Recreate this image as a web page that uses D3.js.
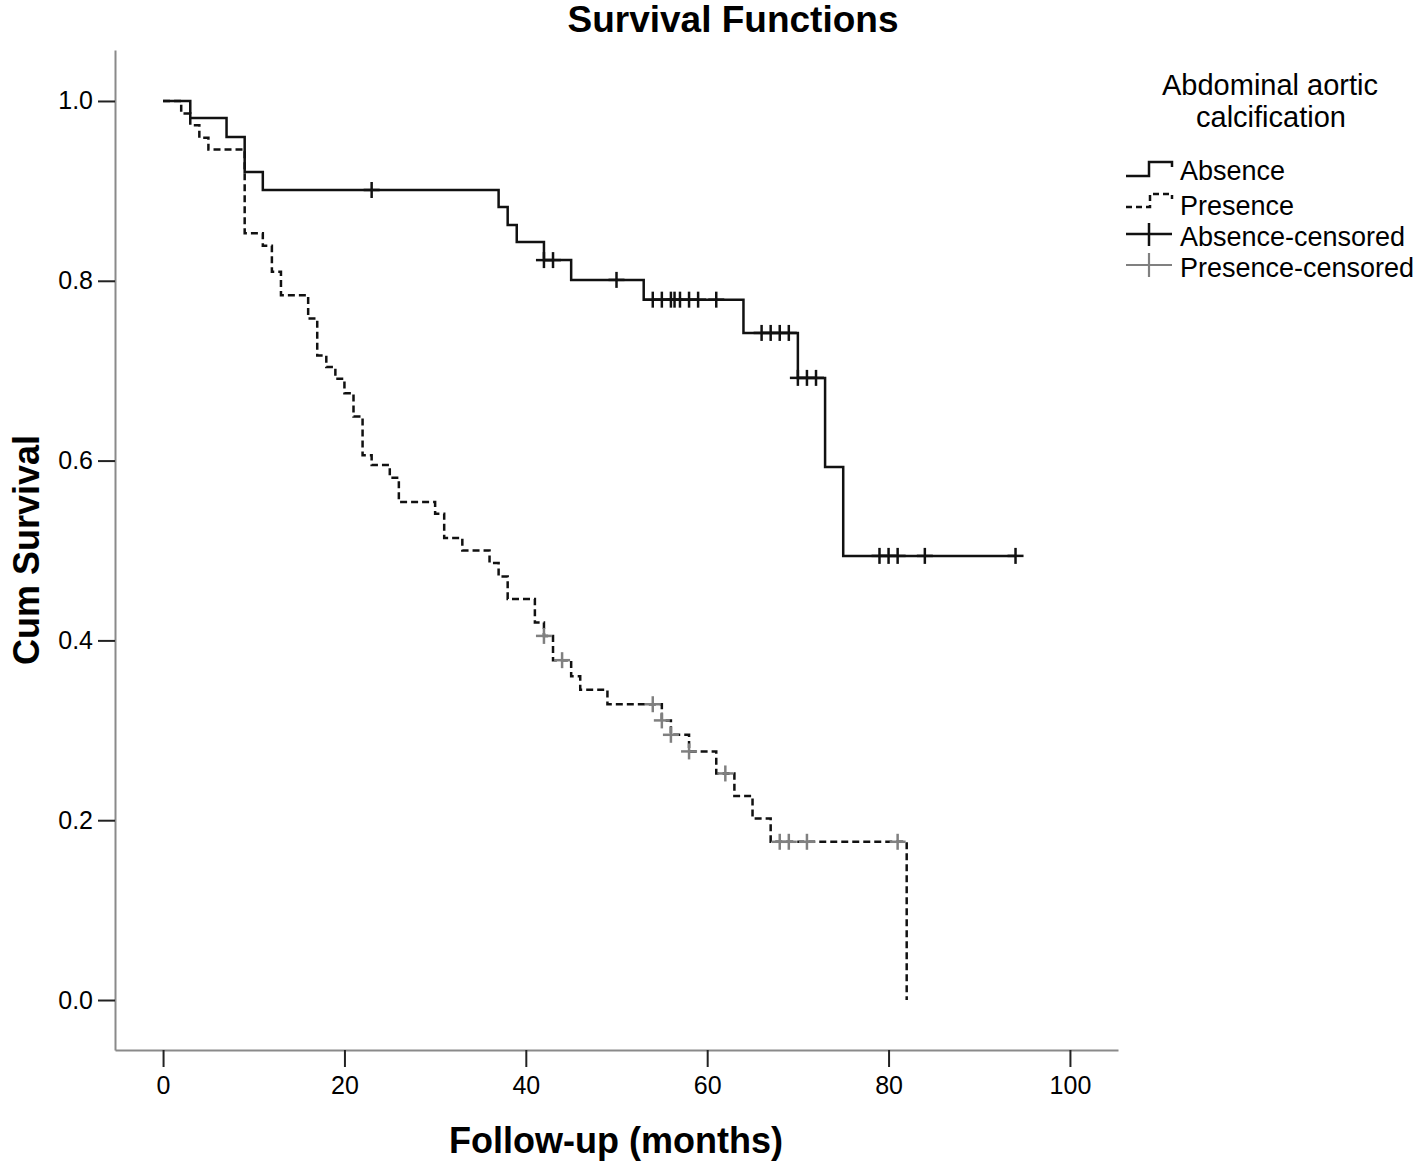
<!DOCTYPE html>
<html>
<head>
<meta charset="utf-8">
<script src="https://cdn.jsdelivr.net/npm/d3@7"></script>
<style>
  html, body { margin: 0; padding: 0; background: #fff; }
  svg { display: block; font-family: "Liberation Sans", Arial, sans-serif; }
</style>
</head>
<body>
<svg id="chart" width="1418" height="1165"></svg>
<script>
// ---- Data ----
const title = "Survival Functions";
const xLabel = "Follow-up (months)";
const yLabel = "Cum Survival";
const legendTitle = ["Abdominal aortic", "calcification"];
const legendLabels = ["Absence", "Presence", "Absence-censored", "Presence-censored"];

const xTicks = [0, 20, 40, 60, 80, 100];
const yTicks = [0.0, 0.2, 0.4, 0.6, 0.8, 1.0];

// Absence group: event times and survival after event
const absenceTimes = [0, 3, 7, 9, 11, 37, 38, 39, 42, 45, 53, 64, 70, 73, 75];
const absenceSurv  = [1.0, 0.981, 0.960, 0.921, 0.901, 0.882, 0.862, 0.843, 0.823, 0.801, 0.779, 0.742, 0.692, 0.593, 0.494];
const absenceLastFollowUp = 94;
const absenceCensored = [23, 42, 43, 50, 54, 55, 56, 56.4, 57, 58, 59, 61, 66, 67, 68, 69, 70, 71, 72, 79, 80, 81, 84, 94];

// Presence group
const presenceTimes = [0, 2, 3, 4, 5, 9, 11, 12, 13, 16, 17, 18, 19, 20, 21, 22, 23, 25, 26, 30, 31, 33, 36, 37, 38, 41, 42, 43, 45, 46, 49, 55, 56, 58, 61, 63, 65, 67, 82];
const presenceSurv  = [1.0, 0.986, 0.973, 0.959, 0.946, 0.853, 0.839, 0.810, 0.784, 0.758, 0.717, 0.704, 0.691, 0.675, 0.649, 0.606, 0.595, 0.581, 0.554, 0.541, 0.514, 0.500, 0.486, 0.471, 0.446, 0.420, 0.405, 0.378, 0.360, 0.345, 0.329, 0.311, 0.295, 0.2765, 0.252, 0.227, 0.202, 0.176, 0.0];
const presenceLastFollowUp = 82;
const presenceCensored = [42, 44, 54, 55, 56, 58, 62, 68, 69, 71, 81];

// ---- Layout ----
const svg = d3.select("#chart");
const plotLeft = 115, plotRight = 1118, plotTop = 50, plotBottom = 1050;

const x = d3.scaleLinear().domain([-5.3, 105.3]).range([plotLeft, plotRight]);
const y = d3.scaleLinear().domain([-0.0556, 1.0567]).range([plotBottom, plotTop]);

function survAt(times, surv, t) {
  let s = surv[0];
  for (let i = 0; i < times.length; i++) { if (times[i] <= t + 1e-9) s = surv[i]; }
  return s;
}
function stepPoints(times, surv, last) {
  const pts = times.map((t, i) => [t, surv[i]]);
  if (last > times[times.length - 1]) pts.push([last, surv[surv.length - 1]]);
  return pts;
}

// ---- Axes ----
const xAxis = d3.axisBottom(x).tickValues(xTicks).tickSize(17).tickSizeOuter(0).tickPadding(9).tickFormat(d3.format("d"));
const yAxis = d3.axisLeft(y).tickValues(yTicks).tickSize(17).tickSizeOuter(0).tickPadding(5).tickFormat(d3.format(".1f"));

const gx = svg.append("g").attr("transform", `translate(0,${plotBottom})`).call(xAxis);
const gy = svg.append("g").attr("transform", `translate(${plotLeft},0)`).call(yAxis);
[gx, gy].forEach(g => {
  g.select(".domain").attr("stroke", "#8a8a8a").attr("stroke-width", 2);
  g.selectAll(".tick line").attr("stroke", "#222").attr("stroke-width", 2);
  g.selectAll(".tick text").attr("fill", "#000").style("font-size", "25px").style("font-family", '"Liberation Sans", Arial, sans-serif');
});

// ---- Curves ----
const line = d3.line().x(d => x(d[0])).y(d => y(d[1])).curve(d3.curveStepAfter);

svg.append("path")
  .datum(stepPoints(absenceTimes, absenceSurv, absenceLastFollowUp))
  .attr("d", line).attr("fill", "none").attr("stroke", "#111").attr("stroke-width", 2.5);

svg.append("path")
  .datum(stepPoints(presenceTimes, presenceSurv, presenceLastFollowUp))
  .attr("d", line).attr("fill", "none").attr("stroke", "#111").attr("stroke-width", 2.5)
  .attr("stroke-dasharray", "7,4");

function drawCensor(times, surv, cens, color) {
  const g = svg.append("g").attr("stroke", color).attr("stroke-width", 2.5);
  cens.forEach(t => {
    const cx = x(t), cy = y(survAt(times, surv, t));
    g.append("line").attr("x1", cx).attr("x2", cx).attr("y1", cy - 8).attr("y2", cy + 8);
    g.append("line").attr("x1", cx - 8).attr("x2", cx + 8).attr("y1", cy).attr("y2", cy);
  });
}
drawCensor(absenceTimes, absenceSurv, absenceCensored, "#111");
drawCensor(presenceTimes, presenceSurv, presenceCensored, "#808080");

// ---- Titles ----
svg.append("text").attr("x", 733).attr("y", 32).attr("text-anchor", "middle")
  .style("font-size", "37px").style("font-weight", "bold").text(title);
svg.append("text").attr("x", 616).attr("y", 1153).attr("text-anchor", "middle")
  .style("font-size", "36px").style("font-weight", "bold").text(xLabel);
svg.append("text").attr("transform", "translate(39,550) rotate(-90)").attr("text-anchor", "middle")
  .style("font-size", "36px").style("font-weight", "bold").text(yLabel);

// ---- Legend ----
const lg = svg.append("g");
lg.append("text").attr("x", 1270).attr("y", 95).attr("text-anchor", "middle").style("font-size", "29px").text(legendTitle[0]);
lg.append("text").attr("x", 1271).attr("y", 127).attr("text-anchor", "middle").style("font-size", "29px").text(legendTitle[1]);

const rowsY = [176, 207, 234, 265];
const textBase = [180, 215, 246, 277];
// Absence step symbol
lg.append("path").attr("d", `M1126,${rowsY[0]}H1149V${rowsY[0]-14}H1172V${rowsY[0]-9}`)
  .attr("fill", "none").attr("stroke", "#111").attr("stroke-width", 2.5);
// Presence step symbol (dashed)
lg.append("path").attr("d", `M1126,${rowsY[1]}H1150V${rowsY[1]-13}H1172V${rowsY[1]-8}`)
  .attr("fill", "none").attr("stroke", "#111").attr("stroke-width", 2.5).attr("stroke-dasharray", "6,4");
// Absence-censored
lg.append("line").attr("x1", 1126).attr("x2", 1172).attr("y1", rowsY[2]).attr("y2", rowsY[2]).attr("stroke", "#111").attr("stroke-width", 2.5);
lg.append("line").attr("x1", 1149).attr("x2", 1149).attr("y1", rowsY[2] - 11).attr("y2", rowsY[2] + 12).attr("stroke", "#111").attr("stroke-width", 2.5);
// Presence-censored
lg.append("line").attr("x1", 1126).attr("x2", 1172).attr("y1", rowsY[3]).attr("y2", rowsY[3]).attr("stroke", "#808080").attr("stroke-width", 2.2);
lg.append("line").attr("x1", 1149).attr("x2", 1149).attr("y1", rowsY[3] - 12).attr("y2", rowsY[3] + 12).attr("stroke", "#808080").attr("stroke-width", 2.2);

legendLabels.forEach((lab, i) => {
  lg.append("text").attr("x", 1180).attr("y", textBase[i]).style("font-size", "27px").text(lab);
});
</script>
</body>
</html>
